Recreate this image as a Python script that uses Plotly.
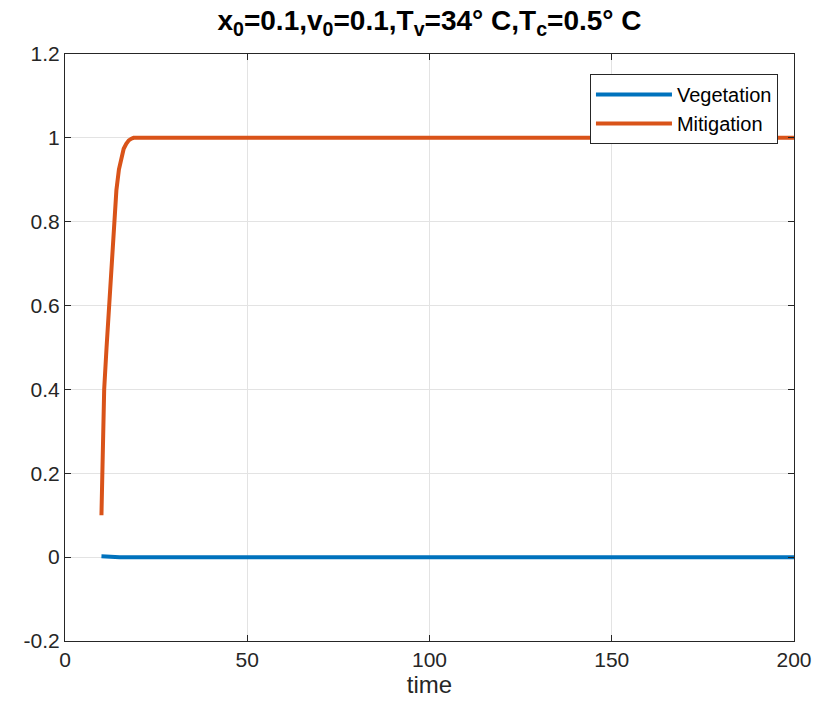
import plotly.graph_objects as go

# Data
veg_t = [10, 12, 15, 20, 50, 100, 150, 200]
veg_v = [0.002, 0.001, 0.0, 0.0, 0.0, 0.0, 0.0, 0.0]

mit_t = [10, 10.75, 11.4, 12.1, 12.8, 13.4, 14.1, 14.8, 15.5, 16.1, 16.8, 17.5, 18.2, 18.8, 20,
         25, 30, 35, 40, 45, 50, 55, 60, 65, 70, 75, 80, 85, 90, 95, 100,
         105, 110, 115, 120, 125, 130, 135, 140, 145, 150, 155, 160, 165, 170, 175, 180,
         185, 190, 195, 200]
mit_v = [0.10, 0.40, 0.50, 0.60, 0.71, 0.80, 0.875, 0.925, 0.957, 0.974, 0.986, 0.994, 0.998, 1.0, 1.0,
         1.0, 1.0005, 0.9995, 1.0, 1.0005, 0.9995, 1.0, 1.0005, 0.999, 1.0005, 1.0, 1.001, 0.999, 1.0, 1.0005, 0.9995,
         1.0, 1.001, 0.9995, 1.0005, 0.999, 1.001, 0.9995, 1.0005, 0.999, 1.0005, 1.0, 0.9995, 1.0005, 1.0, 0.9995, 1.0005,
         1.0, 0.9995, 1.0005, 1.0]

x_ticks = [0, 50, 100, 150, 200]
y_ticks = [-0.2, 0, 0.2, 0.4, 0.6, 0.8, 1, 1.2]
y_labels = ["-0.2", "0", "0.2", "0.4", "0.6", "0.8", "1", "1.2"]

FONT = "Liberation Sans, Arial, Helvetica, sans-serif"

title_text = ("<b>x<sub>0</sub>=0.1,v<sub>0</sub>=0.1,T<sub>v</sub>"
              "=34° C,T<sub>c</sub>=0.5° C</b>")

fig = go.Figure()
fig.add_trace(go.Scatter(x=veg_t, y=veg_v, mode="lines", name="Vegetation",
                         line=dict(color="#0072BD", width=4)))
fig.add_trace(go.Scatter(x=mit_t, y=mit_v, mode="lines", name="Mitigation",
                         line=dict(color="#D95319", width=4)))

axis_common = dict(
    showgrid=True, gridcolor="#E3E3E3", gridwidth=1,
    showline=True, linecolor="#262626", linewidth=1, mirror="ticks",
    ticks="inside", ticklen=6, tickcolor="#262626",
    zeroline=False, ticklabeloverflow="allow",
    tickfont=dict(family=FONT, size=21, color="#262626"),
)

fig.update_layout(
    width=816, height=699,
    paper_bgcolor="white", plot_bgcolor="white",
    margin=dict(l=57, r=18, t=46, b=66),
    title=dict(
        text=title_text,
        x=0.5, xref="paper", xanchor="center",
        y=0.983, yref="container", yanchor="middle",
        font=dict(family=FONT, size=28, color="black"),
    ),
    xaxis=dict(range=[0, 200], tickvals=x_ticks,
               title=dict(text="time", font=dict(family=FONT, size=24, color="#262626"), standoff=4),
               **axis_common),
    yaxis=dict(range=[-0.2, 1.2], tickvals=y_ticks, ticktext=y_labels, **axis_common),
    legend=dict(
        x=0.978, xanchor="right", y=0.966, yanchor="top",
        bgcolor="white", bordercolor="#262626", borderwidth=1,
        font=dict(family=FONT, size=20, color="black"),
        itemwidth=76, tracegroupgap=0,
    ),
    showlegend=True,
)

fig.write_html("out.html", config={"displayModeBar": False})
